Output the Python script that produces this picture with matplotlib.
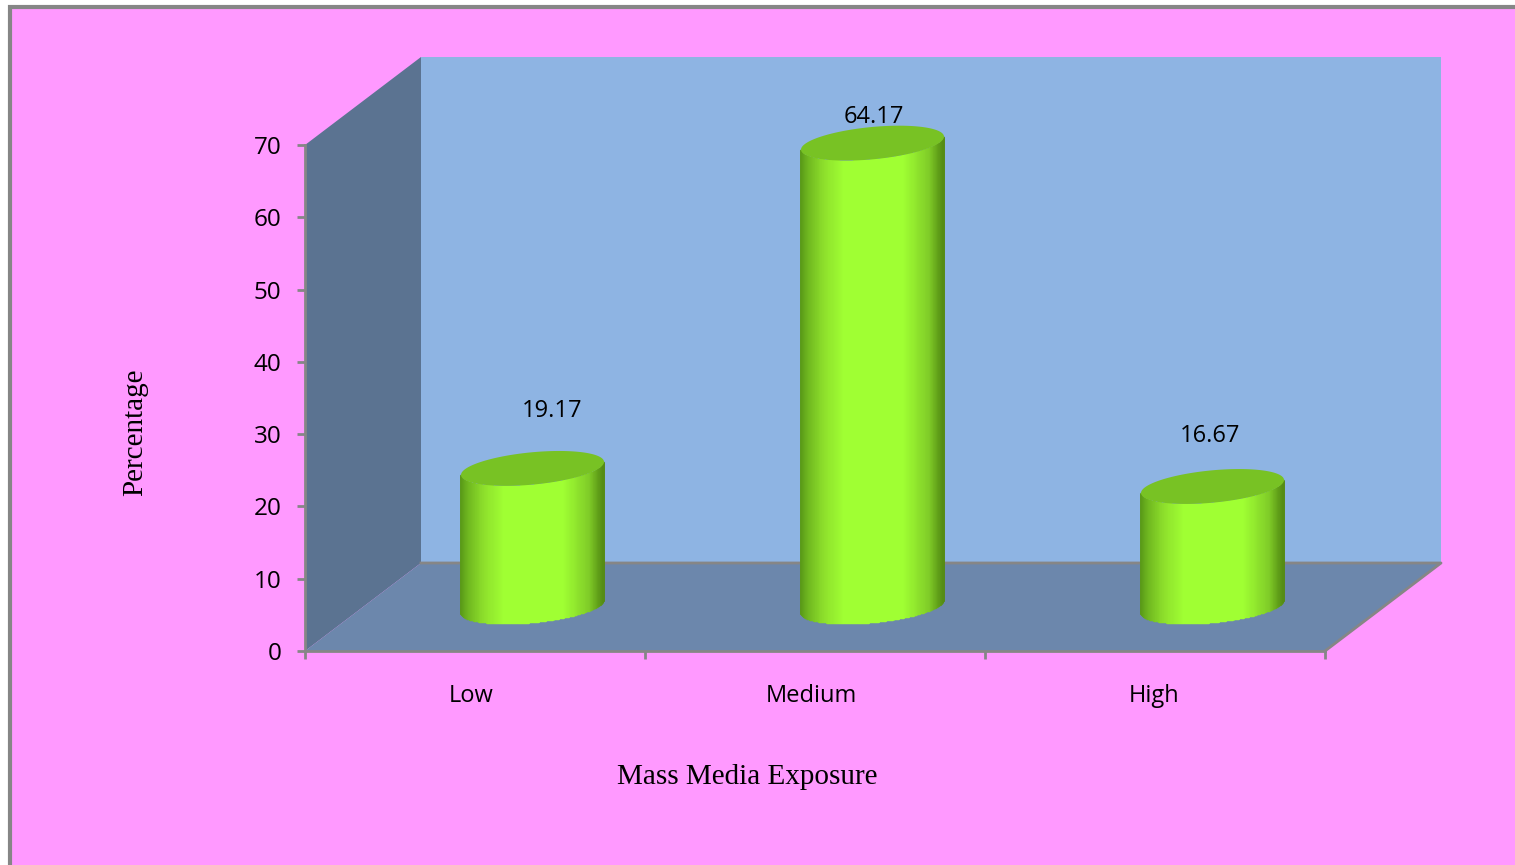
import numpy as np
import matplotlib
matplotlib.use("Agg")
import matplotlib.pyplot as plt
from matplotlib.colors import LinearSegmentedColormap
from matplotlib.patches import Polygon, Rectangle

categories = ["Low", "Medium", "High"]
percentages = [19.17, 64.17, 16.67]
y_ticks = [0, 10, 20, 30, 40, 50, 60, 70]
x_title = "Mass Media Exposure"
y_title = "Percentage"

W, H = 1515, 865
PINK, GREY = "#FF99FF", "#868686"
WALL, SIDE, FLOOR = "#8EB4E3", "#5B7391", "#6C87AC"
TOP = "#78C224"

fig = plt.figure(figsize=(W / 100, H / 100), dpi=100, facecolor="white")

# Page panel with its grey frame
fig.add_artist(Rectangle((9.5 / W, -0.02), 1.02, 1 - 6.5 / H + 0.02, transform=fig.transFigure,
                         facecolor=PINK, edgecolor=GREY, linewidth=3, zorder=-1))

# Front plane of the 3-D plot box, placed in figure pixels
L, R, T, B = 305, 1325, 145, 651
ax = fig.add_axes([L / W, 1 - B / H, (R - L) / W, (B - T) / H])
ax.set_xlim(0, 3)
ax.set_ylim(0, 70)
ax.patch.set_visible(False)
for s in ("top", "right"):
    ax.spines[s].set_visible(False)
for s in ("left", "bottom"):
    ax.spines[s].set_color(GREY)
    ax.spines[s].set_linewidth(2)
    ax.spines[s].set_zorder(6)

# Box depth in data units
DX = 116 / 340
DY = 88 / (506 / 70)

def box(points, color, z=1):
    ax.add_patch(Polygon(points, closed=True, facecolor=color, edgecolor="none",
                         clip_on=False, zorder=z))

box([(DX, DY), (3 + DX, DY), (3 + DX, 70 + DY), (DX, 70 + DY)], WALL)
box([(0, 0), (DX, DY), (DX, 70 + DY), (0, 70)], SIDE)
box([(0, 0), (3, 0), (3 + DX, DY), (DX, DY)], FLOOR)
ax.plot([DX, 3 + DX, 3], [DY, DY, 0], color=GREY, lw=2, clip_on=False, zorder=2)

# Cylinder geometry and shading
A = 71.5 / 340
TILT = 6.5 / (506 / 70)
MINOR = 16.2 / (506 / 70)
shade = LinearSegmentedColormap.from_list(
    "barrel",
    [(0, "#5A9A18"), (0.05, "#70B820"), (0.16, "#8EE02C"), (0.3, "#A0FF33"),
     (0.72, "#A0FF33"), (0.9, "#80CC28"), (0.97, "#5E9C18"), (1, "#558C14")],
)

for i, v in enumerate(percentages):
    cx = i + 0.5 + DX / 2 - 0.5 / 340
    cy = DY / 2
    t = np.linspace(np.pi, 2 * np.pi, 181)
    xs = cx + A * np.cos(t)
    lower = cy + TILT * np.cos(t) + MINOR * np.sin(t)
    X = np.vstack([xs, xs])
    Y = np.vstack([lower, lower + v])
    C = ((xs[:-1] + xs[1:]) / 2 - (cx - A)) / (2 * A)
    ax.pcolormesh(X, Y, C[None, :], cmap=shade, vmin=0, vmax=1,
                  shading="flat", clip_on=False, zorder=3, antialiased=True,
                  edgecolors="face", linewidth=0.3)
    t2 = np.linspace(0, 2 * np.pi, 241)
    ex = cx + A * np.cos(t2)
    ey = cy + v + TILT * np.cos(t2) + MINOR * np.sin(t2)
    box(np.column_stack([ex, ey]), TOP, z=4)

# Value labels above each cylinder, offsets in pixels
label_offsets = [(19, 57), (1, 26), (-3, 50)]
for i, (v, off) in enumerate(zip(percentages, label_offsets)):
    ax.annotate(f"{v:.2f}", (i + 0.5 + DX / 2, v + DY / 2), xytext=off,
                textcoords="offset pixels", ha="center", va="center",
                fontsize=17, family="Open Sans", color="black",
                annotation_clip=False, zorder=5)

ax.set_yticks(y_ticks)
ax.set_xticks([0, 1, 2, 3])
ax.set_xticklabels([])
ax.tick_params(axis="both", color=GREY, width=2, length=6, direction="out")
ax.tick_params(axis="y", labelsize=17.5, pad=11, labelcolor="black")
for lab in ax.get_yticklabels():
    lab.set_family("Open Sans")

# Category names sit under the front edge of the floor
label_shift = [-4, -4, -1]
for i, (c, sh) in enumerate(zip(categories, label_shift)):
    ax.annotate(c, (i + 0.5, 0), xytext=(sh, -45), textcoords="offset pixels",
                ha="center", va="center", fontsize=17, family="Open Sans",
                annotation_clip=False)

fig.text(747 / W, 1 - 777 / H, x_title, ha="center", va="center",
         fontsize=21, family="Liberation Serif")
fig.text(135 / W, 1 - 432 / H, y_title, ha="center", va="center", rotation=90,
         fontsize=21, family="Liberation Serif")

fig.savefig("out.png", dpi=100, facecolor=fig.get_facecolor())
